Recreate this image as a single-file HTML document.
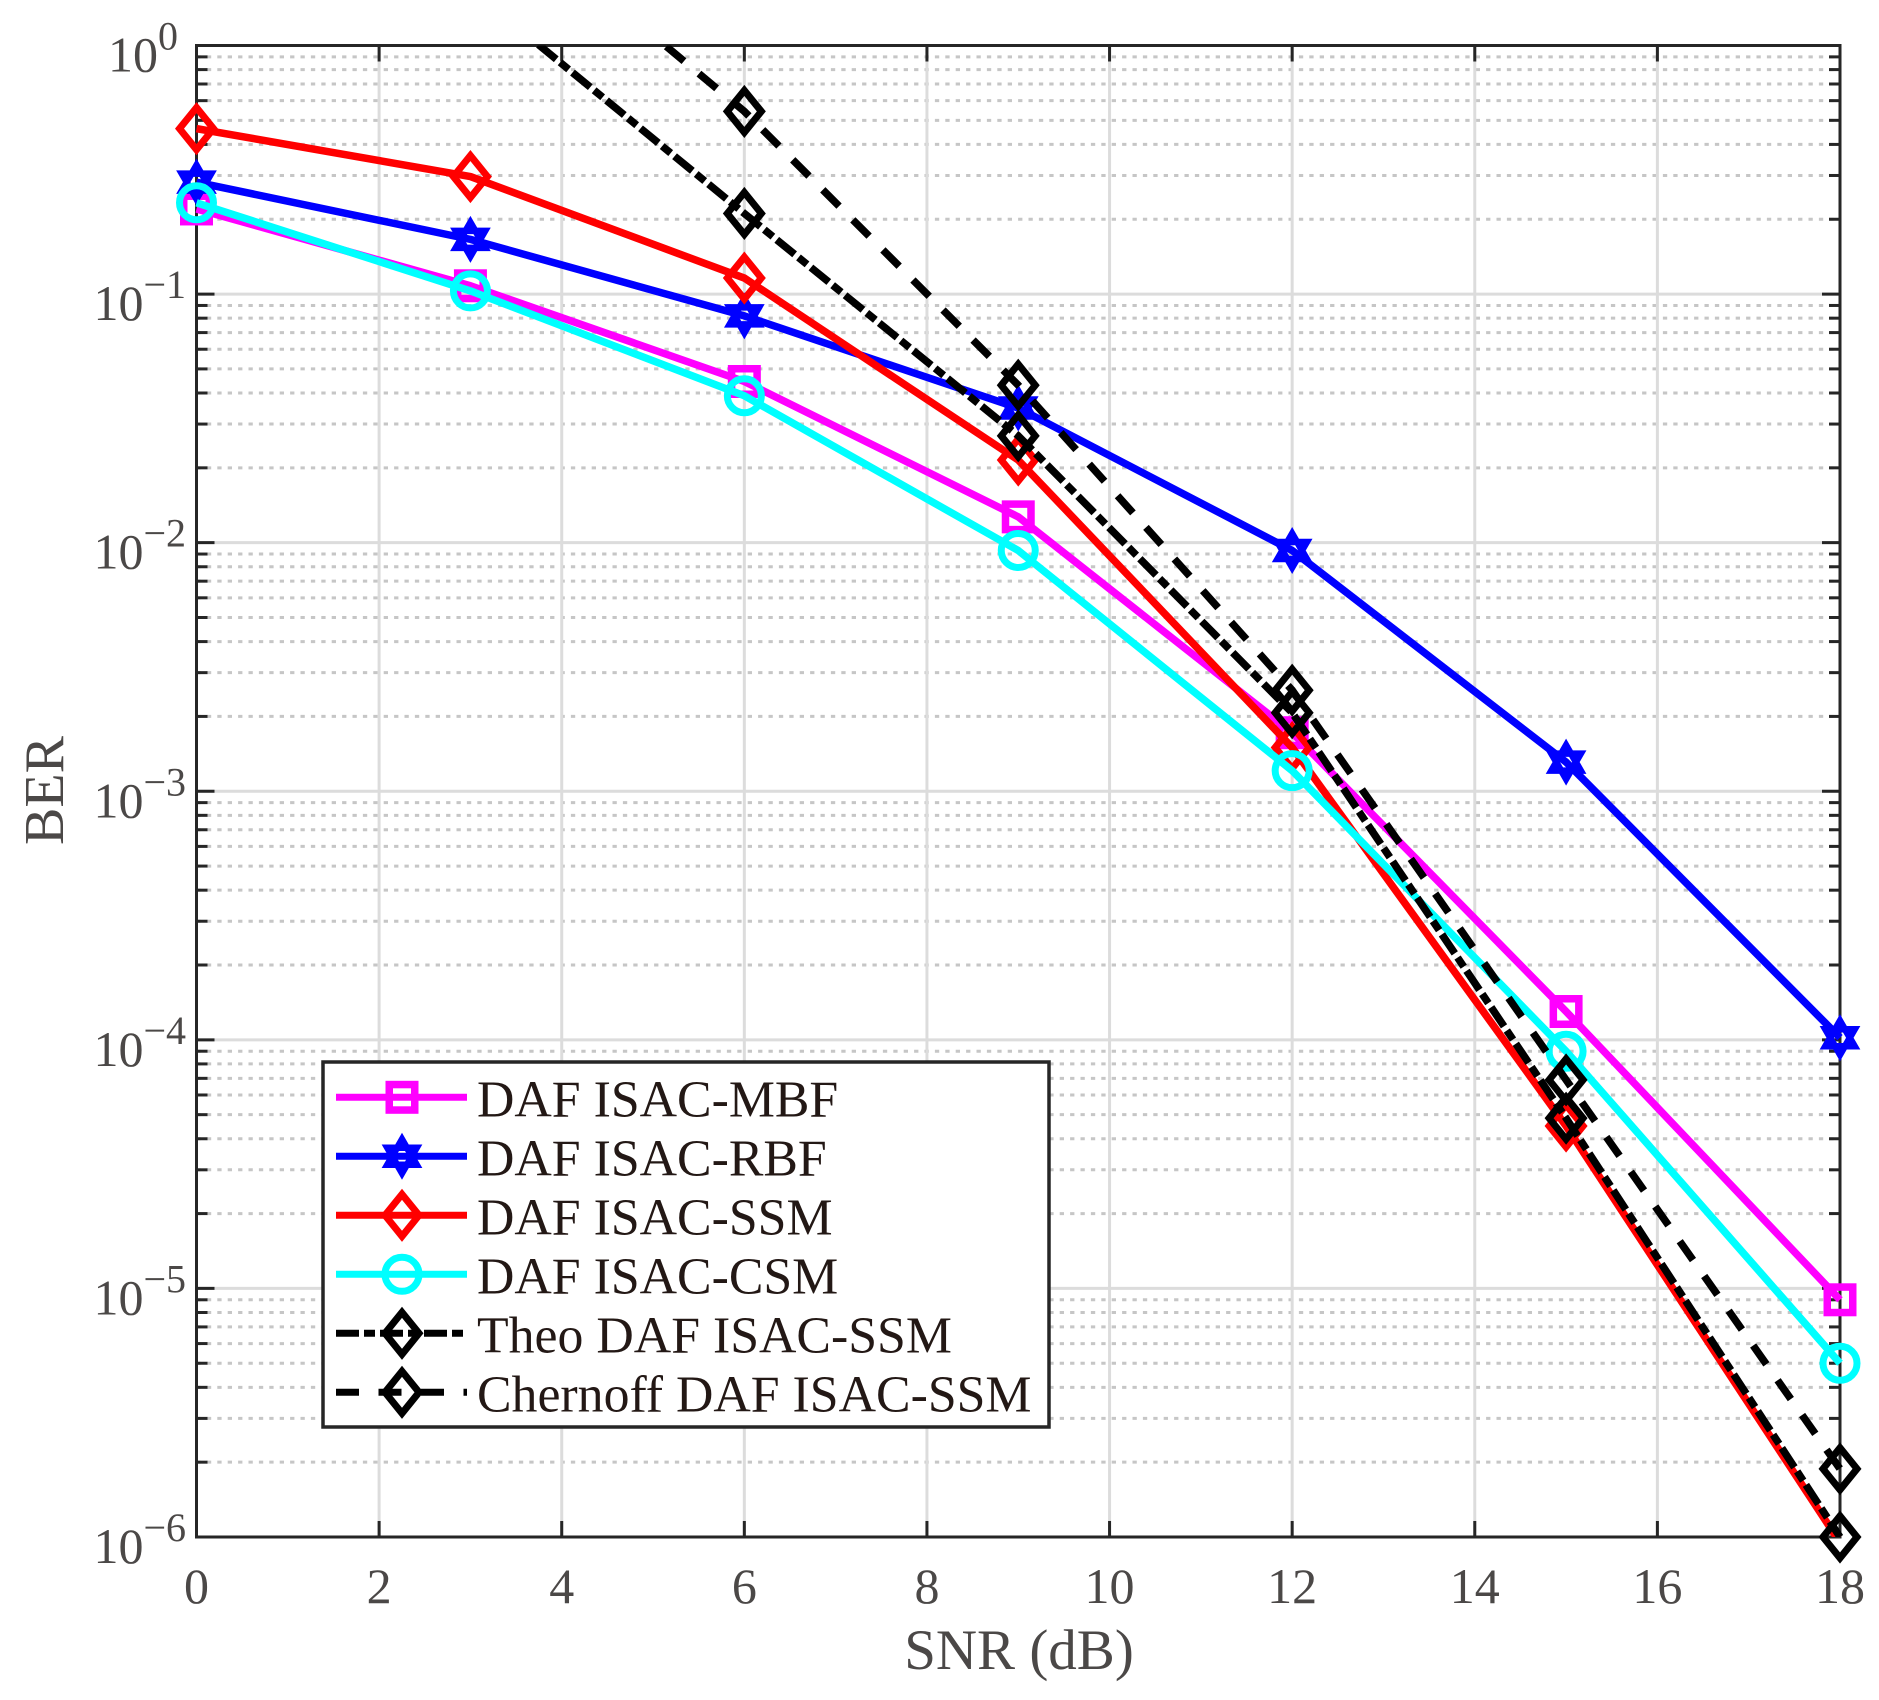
<!DOCTYPE html>
<html lang="en">
<head>
<meta charset="utf-8">
<title>BER vs SNR</title>
<style>
html,body{margin:0;padding:0;background:#fff;}
svg{display:block;}
text{font-family:"Liberation Serif","Times New Roman",serif;}
</style>
</head>
<body>
<svg id="chart" xmlns="http://www.w3.org/2000/svg" width="1879" height="1700" viewBox="0 0 1879 1700"></svg>
<script>
// ---- data ----
const snr = [0, 3, 6, 9, 12, 15, 18];
const berMbf = [0.22, 0.108, 0.0445, 0.0127, 0.00172, 1.3e-4, 9.0e-6];
const berRbf = [0.282, 0.166, 0.0817, 0.0348, 0.0093, 0.00131, 1.02e-4];
const berSsm = [0.463, 0.297, 0.116, 0.0215, 0.0015, 4.5e-5, 9.5e-7];
const berCsm = [0.233, 0.103, 0.039, 0.0093, 0.00121, 9.0e-5, 5.0e-6];
const berTheo = [1.69, 0.211, 0.0269, 0.00207, 4.84e-5, 1.0e-6];
const berChernoff = [4.5, 0.543, 0.043, 0.00255, 6.9e-5, 1.88e-6];
const snrTheory = [3, 6, 9, 12, 15, 18];
const xTicks = [0, 2, 4, 6, 8, 10, 12, 14, 16, 18];
const yExponents = [0, -1, -2, -3, -4, -5, -6];
const minorMultipliers = [2, 3, 4, 5, 6, 7, 8, 9];
const legendLabels = ['DAF ISAC-MBF', 'DAF ISAC-RBF', 'DAF ISAC-SSM', 'DAF ISAC-CSM', 'Theo DAF ISAC-SSM', 'Chernoff DAF ISAC-SSM'];

// ---- geometry ----
const plotLeft = 196.5, plotRight = 1840, plotTop = 45.5, plotBottom = 1537;
const xMin = 0, xMax = 18, logMin = -6, logMax = 0;
function xScale(v) { return plotLeft + (v - xMin) / (xMax - xMin) * (plotRight - plotLeft); }
function yScale(v) { return plotBottom - (Math.log10(v) - logMin) / (logMax - logMin) * (plotBottom - plotTop); }

const svg = document.getElementById('chart');
const NS = 'http://www.w3.org/2000/svg';
function mk(tag, attrs, parent) {
  const n = document.createElementNS(NS, tag);
  for (const k in attrs) n.setAttribute(k, attrs[k]);
  parent.appendChild(n);
  return n;
}
const axisColor = '#262626', labelColor = '#4b4847';

// clip for lines
const defs = mk('defs', {}, svg);
const clip = mk('clipPath', {id: 'plot-clip'}, defs);
mk('rect', {x: plotLeft - 4, y: plotTop, width: plotRight - plotLeft + 8, height: plotBottom - plotTop}, clip);

// ---- grid ----
const grid = mk('g', {}, svg);


yExponents.forEach(function (e) {
  if (e === logMin) return;
  minorMultipliers.forEach(function (m) {
    const y = yScale(m * Math.pow(10, e - 1));
    const line = mk('line', {x1: plotLeft, x2: plotRight, y1: y, y2: y, stroke: '#c6c6c6', 'stroke-width': 3, 'stroke-dasharray': '4.3 6.1'}, grid);
    
    
  });
});
yExponents.forEach(function (e) {
  const y = yScale(Math.pow(10, e));
  const line = mk('line', {x1: plotLeft, x2: plotRight, y1: y, y2: y, stroke: '#dcdcdc', 'stroke-width': 3}, grid);
  
  
});
xTicks.forEach(function (v) {
  const x = xScale(v);
  const line = mk('line', {x1: x, x2: x, y1: plotTop, y2: plotBottom, stroke: '#dcdcdc', 'stroke-width': 3}, grid);
  
  
});

// ---- axes ----
const axes = mk('g', {stroke: axisColor, 'stroke-width': 3, fill: 'none'}, svg);


const frame = mk('rect', {x: plotLeft, y: plotTop, width: plotRight - plotLeft, height: plotBottom - plotTop}, axes);


xTicks.forEach(function (v) {
  const x = xScale(v);
  const b = mk('line', {x1: x, x2: x, y1: plotBottom, y2: plotBottom - 16}, axes);
  
  
  const t = mk('line', {x1: x, x2: x, y1: plotTop, y2: plotTop + 16}, axes);
  
  
});
yExponents.forEach(function (e) {
  const y = yScale(Math.pow(10, e));
  const l = mk('line', {x1: plotLeft, x2: plotLeft + 18, y1: y, y2: y}, axes);
  
  
  const r = mk('line', {x1: plotRight, x2: plotRight - 18, y1: y, y2: y}, axes);
  
  
  if (e === logMin) return;
  minorMultipliers.forEach(function (m) {
    const ym = yScale(m * Math.pow(10, e - 1));
    const lm = mk('line', {x1: plotLeft, x2: plotLeft + 11, y1: ym, y2: ym}, axes);
    
    
    const rm = mk('line', {x1: plotRight, x2: plotRight - 11, y1: ym, y2: ym}, axes);
    
    
  });
});

// ---- tick labels and titles ----
const labels = mk('g', {fill: labelColor, 'font-size': 50}, svg);


xTicks.forEach(function (v) {
  const t = mk('text', {x: xScale(v), y: 1603, 'text-anchor': 'middle'}, labels);
  t.textContent = String(v);
  
  
});
yExponents.forEach(function (e) {
  const t = mk('text', {x: e === 0 ? 178 : 186, y: yScale(Math.pow(10, e)) + 26, 'text-anchor': 'end'}, labels);
  
  
  t.appendChild(document.createTextNode('10'));
  const s = mk('tspan', {dy: -22, 'font-size': 40}, t);
  s.textContent = e === 0 ? '0' : '\u2212' + Math.abs(e);
});
const xTitle = mk('text', {x: 1019, y: 1669, 'text-anchor': 'middle', 'font-size': 57}, labels);
xTitle.textContent = 'SNR (dB)';


const yTitle = mk('text', {x: 0, y: 0, 'text-anchor': 'middle', 'font-size': 56, transform: 'translate(63,790.5) rotate(-90)'}, labels);
yTitle.textContent = 'BER';



// ---- markers ----
function drawMarker(kind, cx, cy, color, parent) {
  const base = {fill: 'none', stroke: color, 'stroke-width': 7, 'stroke-miterlimit': 10};
  if (kind === 'square') {
    return mk('rect', Object.assign(base, {x: cx - 12.75, y: cy - 12.75, width: 25.5, height: 25.5, 'stroke-width': 7.5}), parent);
  }
  if (kind === 'circle') {
    return mk('circle', Object.assign(base, {cx: cx, cy: cy, r: 17}), parent);
  }
  if (kind === 'diamond') {
    const hw = 17, hh = 21;
    return mk('path', Object.assign(base, {d: 'M' + cx + ' ' + (cy - hh) + 'L' + (cx + hw) + ' ' + cy + 'L' + cx + ' ' + (cy + hh) + 'L' + (cx - hw) + ' ' + cy + 'Z'}), parent);
  }
  const R = 17, dx = R * Math.cos(Math.PI / 6), dy = R / 2;
  const d = 'M' + cx + ' ' + (cy - R) + 'L' + (cx + dx) + ' ' + (cy + dy) + 'L' + (cx - dx) + ' ' + (cy + dy) + 'Z' +
            'M' + cx + ' ' + (cy + R) + 'L' + (cx + dx) + ' ' + (cy - dy) + 'L' + (cx - dx) + ' ' + (cy - dy) + 'Z';
  return mk('path', Object.assign(base, {d: d, 'stroke-width': 6.5}), parent);
}

const dashDot = '23 5 11 5', dashed = '23 19.5';

// ---- series ----
function drawSeries(xs, ys, color, kind, dash, group) {
  const pts = xs.map(function (x, i) { return xScale(x) + ' ' + yScale(ys[i]); }).join('L');
  const attrs = {d: 'M' + pts, fill: 'none', stroke: color, 'stroke-width': 7.5, 'stroke-linejoin': 'round', 'clip-path': 'url(#plot-clip)'};
  if (dash) attrs['stroke-dasharray'] = dash;
  const line = mk('path', attrs, group);
  
  
  xs.forEach(function (x, i) {
    if (ys[i] > 1 || ys[i] < 1e-6) return;
    const m = drawMarker(kind, xScale(x), yScale(ys[i]), color, group);
    
    
  });
}
const gMbf = mk('g', {}, svg);


drawSeries(snr, berMbf, '#ff00ff', 'square', null, gMbf);
const gRbf = mk('g', {}, svg);


drawSeries(snr, berRbf, '#0000ff', 'hexagram', null, gRbf);
const gSsm = mk('g', {}, svg);


drawSeries(snr, berSsm, '#ff0000', 'diamond', null, gSsm);
const gCsm = mk('g', {}, svg);


drawSeries(snr, berCsm, '#00ffff', 'circle', null, gCsm);
const gTheo = mk('g', {}, svg);


drawSeries(snrTheory, berTheo, '#000000', 'diamond', dashDot, gTheo);
const gChernoff = mk('g', {}, svg);


drawSeries(snrTheory, berChernoff, '#000000', 'diamond', dashed, gChernoff);

// ---- legend ----
const legendColors = ['#ff00ff', '#0000ff', '#ff0000', '#00ffff', '#000000', '#000000'];
const legendKinds = ['square', 'hexagram', 'diamond', 'circle', 'diamond', 'diamond'];
const legendDashes = [null, null, null, null, dashDot, dashed];
const legend = mk('g', {}, svg);


const legendBox = mk('rect', {x: 323, y: 1062, width: 726, height: 365, fill: '#ffffff', stroke: axisColor, 'stroke-width': 3.5}, legend);


legendLabels.forEach(function (label, i) {
  const rowY = 1097.3 + i * 59;
  const entry = mk('g', {}, legend);
  
  
  const attrs = {x1: 336, x2: 467, y1: rowY, y2: rowY, stroke: legendColors[i], 'stroke-width': 7};
  if (legendDashes[i]) attrs['stroke-dasharray'] = legendDashes[i];
  const swatch = mk('line', attrs, entry);
  
  
  const mark = drawMarker(legendKinds[i], 402, rowY, legendColors[i], entry);
  
  
  const t = mk('text', {x: 477, y: rowY + 19, 'font-size': 51.8, fill: '#231815'}, entry);
  t.textContent = label;
  
  
});
</script>
</body>
</html>
